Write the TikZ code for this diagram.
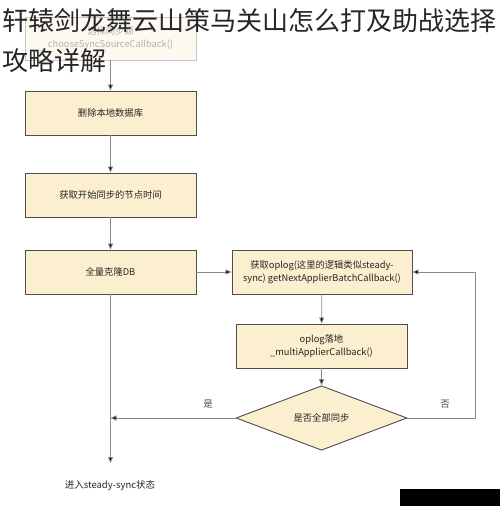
\documentclass[tikz,border=0pt]{standalone}
\usepackage{fontspec}
\setmainfont{Noto Sans CJK SC}
\usetikzlibrary{shapes.geometric,arrows.meta}
\definecolor{boxfill}{HTML}{FCEFCF}
\definecolor{boxline}{HTML}{4D4D4D}
\definecolor{flowline}{HTML}{8A8A8A}
\definecolor{fadefill}{HTML}{FDF9F0}
\definecolor{fadeline}{HTML}{C8C8C8}
\definecolor{fadetext}{HTML}{B0B0B0}

\begin{document}
\begin{tikzpicture}[x=1pt,y=-1pt,
  box/.style={draw=boxline,line width=0.9pt,fill=boxfill,minimum width=171pt,minimum height=44pt,
    inner sep=2pt,align=center,font=\fontsize{9.3}{13}\selectfont,text=black!85},
  faded/.style={draw=fadeline,fill=fadefill,text=fadetext},
  flow/.style={draw=flowline,line width=0.8pt,-{Triangle[length=6pt,width=5pt,fill=black]}},
  branch/.style={font=\fontsize{9.5}{11}\selectfont,text=black!70}]
\useasboundingbox (0,0) rectangle (500,506);
\fill[white] (0,0) rectangle (500,506);

\node[box,faded,minimum height=43pt] (src) at (110.5,38.5) {选择同步源\\chooseSyncSourceCallback()};
\node[box] (del) at (110.5,113) {删除本地数据库};
\node[box] (start) at (110.5,195) {获取开始同步的节点时间};
\node[box] (clone) at (110.5,272) {全量克隆DB};
\node[box,minimum width=180pt] (fetch) at (322,272) {获取oplog(这里的逻辑类似steady-\\sync) getNextApplierBatchCallback()};
\node[box] (apply) at (321.5,346) {oplog落地\\\_multiApplierCallback()};
\node[box,diamond,minimum width=171pt,minimum height=38pt,inner sep=0pt] (check) at (321.5,418) {是否全部同步};
\node[font=\fontsize{9.5}{11}\selectfont,text=black!85] (steady) at (110,486) {进入steady-sync状态};

\coordinate (yes) at (110.5,418);
\coordinate (no) at (475,272);
\coordinate (end) at (110.5,463);

\draw[flow] (src) -- (del);
\draw[flow] (del) -- (start);
\draw[flow] (start) -- (clone);
\draw[flow] (clone) -- (fetch);
\draw[flow] (fetch) -- (apply);
\draw[flow] (apply) -- (check);
\draw[flow] (check.east) -| (no) -- (fetch.east);
\draw[flow] (check.west) -- (yes);
\draw[flow] (clone) -- (end);

\node[branch] at (208,404) {是};
\node[branch] at (445,404) {否};

% title over the picture
\node[font=\fontsize{26}{28}\selectfont,text=black!85,anchor=west,inner sep=0pt] (title) at (2,21) {轩辕剑龙舞云山策马关山怎么打及助战选择};
\node[font=\fontsize{26}{28}\selectfont,text=black!85,anchor=west,inner sep=0pt] (title2) at (2,61) {攻略详解};

\fill[black] (400,489) rectangle (500,506);
\end{tikzpicture}
\end{document}
